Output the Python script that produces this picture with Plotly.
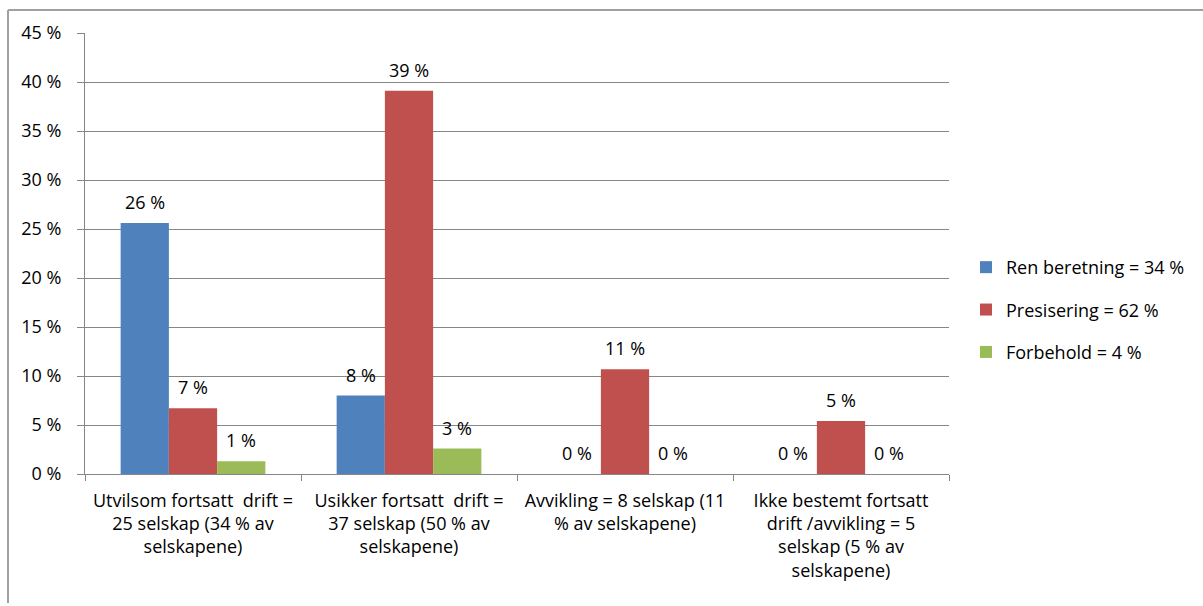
import plotly.graph_objects as go

# Categories (x axis) and series values, in percent
categories = [
    "Utvilsom fortsatt  drift =<br>25 selskap (34 % av<br>selskapene)",
    "Usikker fortsatt  drift =<br>37 selskap (50 % av<br>selskapene)",
    "Avvikling = 8 selskap (11<br>% av selskapene)",
    "Ikke bestemt fortsatt<br>drift /avvikling = 5<br>selskap (5 % av<br>selskapene)",
]
series_names = ["Ren beretning = 34 %", "Presisering = 62 %", "Forbehold = 4 %"]
ren_beretning = [25.6, 8.0, 0.0, 0.0]
presisering = [6.7, 39.1, 10.7, 5.4]
forbehold = [1.3, 2.6, 0.0, 0.0]
colors = ["#4F81BD", "#C0504D", "#9BBB59"]

y_ticks = [0, 5, 10, 15, 20, 25, 30, 35, 40, 45]
y_tick_labels = [f"{v} %" for v in y_ticks]

FONT = "Open Sans"
TEXT_COLOR = "#000000"
AXIS_COLOR = "#868686"
BAR_PX = 48  # bar width in px, used to place the value labels over each bar

fig = go.Figure()
all_series = [ren_beretning, presisering, forbehold]
for name, vals, col in zip(series_names, all_series, colors):
    fig.add_trace(go.Bar(
        x=categories,
        y=vals,
        name=name,
        legendgroup=name,
        marker=dict(color=col, line=dict(width=0)),
    ))

# Value labels above each bar
for i, vals in enumerate(all_series):
    for cat, v in zip(categories, vals):
        fig.add_annotation(
            x=cat, y=v, xref="x", yref="y",
            text=f"{v:.0f} %",
            showarrow=False,
            xanchor="center", yanchor="bottom",
            xshift=(i - 1) * BAR_PX,
            yshift=7,
            font=dict(family=FONT, size=18, color=TEXT_COLOR),
        )

fig.update_layout(
    width=1203,
    height=606,
    margin=dict(l=85, r=254, t=33, b=132),
    paper_bgcolor="white",
    plot_bgcolor="white",
    barmode="group",
    bargap=0.33,
    bargroupgap=0,
    font=dict(family=FONT, size=18, color=TEXT_COLOR),
    legend=dict(
        x=(966 - 85) / 864, y=0.372, xanchor="left", yanchor="middle",
        font=dict(family=FONT, size=18, color=TEXT_COLOR),
        tracegroupgap=16,
        itemwidth=30,
        bgcolor="rgba(0,0,0,0)",
    ),
    showlegend=True,
)

fig.update_xaxes(
    showgrid=False,
    showline=True, linecolor=AXIS_COLOR, linewidth=1,
    ticks="outside", ticklen=6, tickcolor=AXIS_COLOR,
    tickson="boundaries",
    ticklabelstandoff=10,
    tickfont=dict(family=FONT, size=18, color=TEXT_COLOR),
    zeroline=False,
)
fig.update_yaxes(
    range=[0, 45],
    tickvals=y_ticks,
    ticktext=y_tick_labels,
    showgrid=True, gridcolor=AXIS_COLOR, gridwidth=1,
    showline=True, linecolor=AXIS_COLOR, linewidth=1,
    ticks="outside", ticklen=7, tickcolor=AXIS_COLOR,
    ticklabelstandoff=12,
    tickfont=dict(family=FONT, size=18, color=TEXT_COLOR),
    zeroline=False,
)

# Chart-area frame: top and left edges
fig.add_shape(type="line", xref="paper", yref="paper",
              x0=(8 - 85) / 864, x1=(1203 - 85) / 864, y0=(474 - 10) / 441, y1=(474 - 10) / 441,
              line=dict(color="#A0A0A0", width=2))
fig.add_shape(type="line", xref="paper", yref="paper",
              x0=(8 - 85) / 864, x1=(8 - 85) / 864, y0=(474 - 10) / 441, y1=(474 - 603) / 441,
              line=dict(color="#A0A0A0", width=2))

fig.write_html("out.html")
